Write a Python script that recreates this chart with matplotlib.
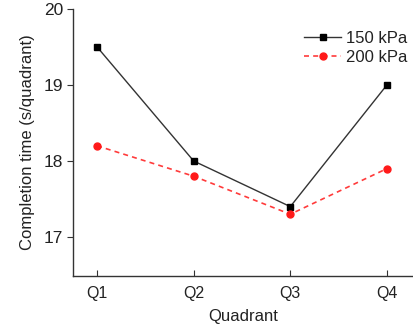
import matplotlib
matplotlib.use('Agg')
import matplotlib.pyplot as plt

plt.rcParams['font.family'] = ['Liberation Sans', 'DejaVu Sans']

# completion time per quadrant at two pressures
quadrants = ['Q1', 'Q2', 'Q3', 'Q4']
time_150 = [19.5, 18.0, 17.4, 19.0]
time_200 = [18.2, 17.8, 17.3, 17.9]
yticks = [17, 18, 19, 20]

fig = plt.figure(figsize=(4.14, 3.28), dpi=100)
ax = fig.add_axes([0.176, 0.159, 0.824, 0.814])

x = list(range(1, len(quadrants) + 1))
ax.plot(x, time_150, color='#333333', lw=1.0, marker='s', ms=4.5,
        mfc='black', mec='black', label='150 kPa')
ax.plot(x, time_200, color='#ff3b3b', lw=1.2, ls=(0, (3, 2.5)), marker='o', ms=5,
        mfc='#ff1a1a', mec='#ff1a1a', label='200 kPa')

ax.set_xlim(0.75, 4.28)
ax.set_ylim(16.49, 20)
ax.set_xticks(x)
ax.set_xticklabels(quadrants)
ax.set_yticks(yticks)

ax.spines['top'].set_visible(False)
ax.spines['right'].set_visible(False)
for s in ['left', 'bottom']:
    ax.spines[s].set_color('#333333')
    ax.spines[s].set_linewidth(1.0)
ax.tick_params(axis='x', direction='in', length=4, labelsize=11.5, pad=7, colors='#333333')
ax.tick_params(axis='y', direction='out', length=4, labelsize=12.5, pad=3, colors='#333333')
for lbl in ax.get_xticklabels() + ax.get_yticklabels():
    lbl.set_color('#222222')

ax.set_xlabel('Quadrant', fontsize=12, color='#222222', labelpad=6)
ax.set_ylabel('Completion time (s/quadrant)', fontsize=12, color='#222222', labelpad=6)

leg = ax.legend(loc='upper right', bbox_to_anchor=(1.025, 0.975), frameon=False, fontsize=12,
                handlelength=2.2, handletextpad=0.3, labelspacing=0.25)
for t in leg.get_texts():
    t.set_color('#222222')

fig.savefig('out.png', dpi=100)
